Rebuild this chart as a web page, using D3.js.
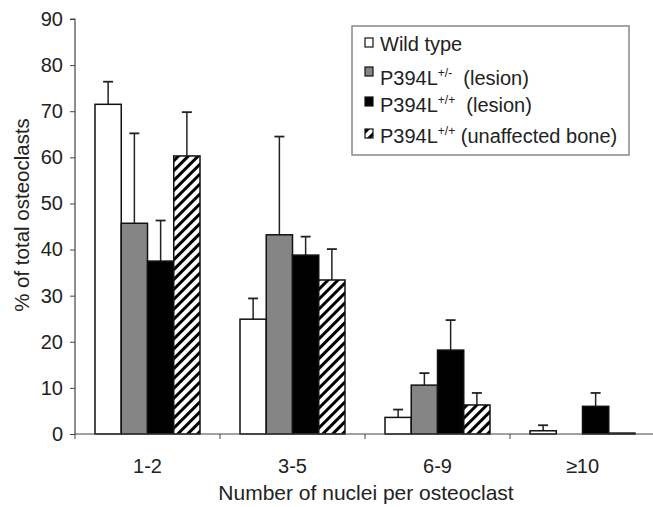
<!DOCTYPE html>
<html>
<head>
<meta charset="utf-8">
<script src="https://cdn.jsdelivr.net/npm/d3@7"></script>
<style>
  body { margin: 0; background: #fff; }
  svg { display: block; font-family: "Liberation Sans", Arial, Helvetica, sans-serif; }
</style>
</head>
<body>
<div id="chart"></div>
<script>
var categories = ["1-2", "3-5", "6-9", "\u226510"];
var series = ["wt", "het", "hom", "homUnaff"];
var wildType = [71.5, 24.9, 3.6, 0.7];
var wildTypeErr = [4.9, 4.5, 1.7, 1.2];
var hetLesion = [45.7, 43.2, 10.6, 0];
var hetLesionErr = [19.5, 21.3, 2.6, 0];
var homLesion = [37.5, 38.8, 18.2, 6.0];
var homLesionErr = [8.8, 4.0, 6.5, 2.9];
var homUnaffected = [60.3, 33.4, 6.3, 0.2];
var homUnaffectedErr = [9.5, 6.7, 2.6, 0];
var yTicks = [0, 10, 20, 30, 40, 50, 60, 70, 80, 90];

var values = [wildType, hetLesion, homLesion, homUnaffected];
var errors = [wildTypeErr, hetLesionErr, homLesionErr, homUnaffectedErr];

var w = 653, h = 507;
var svg = d3.select("#chart").append("svg")
    .attr("width", w)
    .attr("height", h);

var defs = svg.append("defs");
var pat = defs.append("pattern")
    .attr("id", "hatch")
    .attr("patternUnits", "userSpaceOnUse")
    .attr("width", 7)
    .attr("height", 7)
    .attr("patternTransform", "rotate(45)");
pat.append("rect").attr("width", 7).attr("height", 7).attr("fill", "#fff");
pat.append("rect").attr("width", 3).attr("height", 7).attr("fill", "#000");

var fills = ["#fff", "#858585", "#000", "url(#hatch)"];

var y = d3.scaleLinear().domain([0, 90]).range([434, 19]);
var x0 = d3.scaleBand().domain(categories).range([75, 655]);
var x1 = d3.scaleBand().domain(series).range([20, x0.bandwidth() - 20]);

// bars
var groups = svg.selectAll("g.cat")
    .data(categories)
  .enter().append("g")
    .attr("class", "cat")
    .attr("transform", function(d) { return "translate(" + x0(d) + ",0)"; });

groups.each(function(c, ci) {
  var g = d3.select(this);
  series.forEach(function(s, si) {
    var v = values[si][ci], e = errors[si][ci];
    var bx = x1(s), bw = x1.bandwidth();
    if (e > 0) {
      g.append("line")
        .attr("x1", bx + bw / 2).attr("x2", bx + bw / 2)
        .attr("y1", y(v)).attr("y2", y(v + e))
        .attr("stroke", "#222").attr("stroke-width", 1.5);
      g.append("line")
        .attr("x1", bx + bw / 2 - 5).attr("x2", bx + bw / 2 + 5)
        .attr("y1", y(v + e)).attr("y2", y(v + e))
        .attr("stroke", "#222").attr("stroke-width", 1.8);
    }
    if (v > 0) {
      g.append("rect")
        .attr("x", bx).attr("width", bw)
        .attr("y", y(v)).attr("height", y(0) - y(v))
        .attr("fill", fills[si])
        .attr("stroke", "#111").attr("stroke-width", 1.5);
    }
  });
});

// y axis
var yAxis = svg.append("g")
    .attr("transform", "translate(75,0)")
    .call(d3.axisLeft(y).tickValues(yTicks).tickSize(5).tickPadding(7));
yAxis.select(".domain").attr("stroke", "#444").attr("stroke-width", 1.2).attr("d", "M-5," + y(90) + "H0V" + y(0));
yAxis.selectAll(".tick line").attr("stroke", "#444");
yAxis.selectAll("text").attr("font-size", 20).attr("fill", "#222").attr("font-family", "Liberation Sans, Arial, sans-serif");

// x axis
svg.append("line")
    .attr("x1", 75).attr("x2", 653)
    .attr("y1", y(0)).attr("y2", y(0))
    .attr("stroke", "#444").attr("stroke-width", 1.2);
svg.selectAll("line.xtick")
    .data(categories)
  .enter().append("line")
    .attr("class", "xtick")
    .attr("x1", function(d) { return x0(d); })
    .attr("x2", function(d) { return x0(d); })
    .attr("y1", y(0)).attr("y2", y(0) + 5)
    .attr("stroke", "#444");
svg.selectAll("text.xlab")
    .data(categories)
  .enter().append("text")
    .attr("class", "xlab")
    .attr("x", function(d) { return x0(d) + x0.bandwidth() / 2; })
    .attr("y", 473)
    .attr("text-anchor", "middle")
    .attr("font-size", 20)
    .attr("fill", "#222")
    .text(function(d) { return d; });

svg.append("text")
    .attr("x", 366).attr("y", 500)
    .attr("text-anchor", "middle")
    .attr("font-size", 21)
    .attr("fill", "#222")
    .text("Number of nuclei per osteoclast");

svg.append("text")
    .attr("transform", "translate(29,215) rotate(-90)")
    .attr("text-anchor", "middle")
    .attr("font-size", 20.5)
    .attr("fill", "#222")
    .text("% of total osteoclasts");

// legend
var legend = svg.append("g");
legend.append("rect")
    .attr("x", 352).attr("y", 26)
    .attr("width", 277).attr("height", 129)
    .attr("fill", "#fff")
    .attr("stroke", "#888").attr("stroke-width", 1.5);

var legendRows = [
  { name: "Wild type", sup: null, rest: "" },
  { name: "P394L", sup: "+/-", rest: "  (lesion)" },
  { name: "P394L", sup: "+/+", rest: "  (lesion)" },
  { name: "P394L", sup: "+/+", rest: " (unaffected bone)" }
];
var rowBase = [51, 85, 112, 143];
var swatchTop = [38, 67, 97, 129];

legendRows.forEach(function(r, i) {
  legend.append("rect")
    .attr("x", 365).attr("y", swatchTop[i])
    .attr("width", 8).attr("height", 9)
    .attr("fill", fills[i])
    .attr("stroke", "#111").attr("stroke-width", 1.2);
  var t = legend.append("text")
    .attr("x", 380).attr("y", rowBase[i])
    .attr("font-size", 20)
    .attr("fill", "#222")
    .attr("xml:space", "preserve");
  t.append("tspan").text(r.name);
  if (r.sup) {
    t.append("tspan").attr("font-size", 12).attr("dy", -8).text(r.sup);
    t.append("tspan").attr("dy", 8).text(r.rest);
  }
});
</script>
</body>
</html>
